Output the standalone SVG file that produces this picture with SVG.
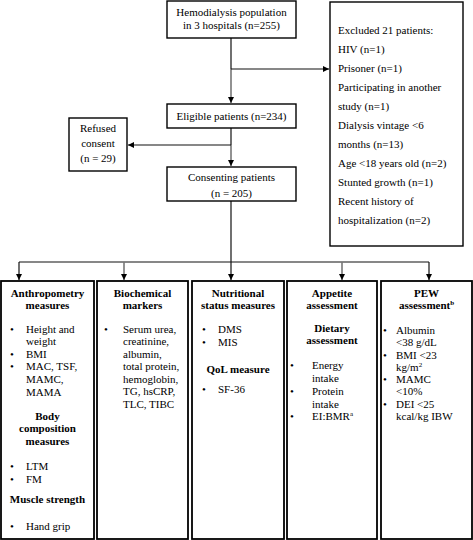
<svg xmlns="http://www.w3.org/2000/svg" width="473" height="540" viewBox="0 0 473 540">
<defs>
<marker id="ah" markerWidth="8" markerHeight="8" refX="6" refY="3" orient="auto" markerUnits="userSpaceOnUse">
<path d="M0,0 L6,3 L0,6 Z" fill="#000"/>
</marker>
<style>
text{font-family:"Liberation Serif","Times New Roman",serif;font-size:11px;fill:#000}
.b{font-weight:bold}
.box{fill:#fff;stroke:#000;stroke-width:1.4}
.col{fill:#fff;stroke:#000;stroke-width:1.8}
.ln{fill:none;stroke:#111;stroke-width:1.2}
.gr{fill:none;stroke:#777;stroke-width:1.6}
.sup{font-size:7px}
</style>
</defs>
<rect width="473" height="540" fill="#fff"/>
<g id="connectors">
<path class="ln" d="M231,38 V69"/>
<path class="gr" d="M231,69 V103" marker-end="url(#ah)"/>
<path class="ln" d="M231,69 H329" marker-end="url(#ah)"/>
<path class="ln" d="M231,128 V145"/>
<path class="gr" d="M231,145 V166" marker-end="url(#ah)"/>
<path class="ln" d="M231,145 H128" marker-end="url(#ah)"/>
<path class="ln" d="M231,201 V280" marker-end="url(#ah)"/>
<path class="ln" d="M19,262 H429"/>
<path class="ln" d="M19,262 V280" marker-end="url(#ah)"/>
<path class="gr" d="M124,262 V280" marker-end="url(#ah)"/>
<path class="gr" d="M342,262 V280" marker-end="url(#ah)"/>
<path class="ln" d="M429,262 V280" marker-end="url(#ah)"/>
</g>
<g id="population">
<rect class="box" x="167" y="1" width="129" height="37"/>
<text text-anchor="middle" x="231.5" y="16">Hemodialysis population</text>
<text text-anchor="middle" x="231.5" y="29">in 3 hospitals (n=255)</text>
</g>
<g id="excluded">
<rect class="box" x="330" y="2" width="133" height="244"/>
<text x="338" y="34">Excluded 21 patients:</text>
<text x="338" y="53">HIV (n=1)</text>
<text x="338" y="72">Prisoner (n=1)</text>
<text x="338" y="91">Participating in another</text>
<text x="338" y="110">study (n=1)</text>
<text x="338" y="129">Dialysis vintage &lt;6</text>
<text x="338" y="148">months (n=13)</text>
<text x="338" y="167">Age &lt;18 years old (n=2)</text>
<text x="338" y="186">Stunted growth (n=1)</text>
<text x="338" y="205">Recent history of</text>
<text x="338" y="224">hospitalization (n=2)</text>
</g>
<g id="eligible">
<rect class="box" x="167" y="104" width="129" height="24"/>
<text text-anchor="middle" x="231.5" y="120">Eligible patients (n=234)</text>
</g>
<g id="refused">
<rect class="box" x="69" y="118" width="58" height="53"/>
<text text-anchor="middle" x="98" y="132">Refused</text>
<text text-anchor="middle" x="98" y="147">consent</text>
<text text-anchor="middle" x="98" y="162">(n = 29)</text>
</g>
<g id="consenting">
<rect class="box" x="167" y="167" width="129" height="34"/>
<text text-anchor="middle" x="231.5" y="181">Consenting patients</text>
<text text-anchor="middle" x="231.5" y="197">(n = 205)</text>
</g>
<g id="anthropometry">
<rect class="col" x="1" y="281" width="93" height="258"/>
<text class="b" text-anchor="middle" x="47.5" y="297">Anthropometry</text>
<text class="b" text-anchor="middle" x="47.5" y="309">measures</text>
<text x="10" y="333">•</text><text x="26" y="333">Height and</text>
<text x="26" y="345">weight</text>
<text x="10" y="358">•</text><text x="26" y="358">BMI</text>
<text x="10" y="370">•</text><text x="26" y="370">MAC, TSF,</text>
<text x="26" y="383">MAMC,</text>
<text x="26" y="396">MAMA</text>
<text class="b" text-anchor="middle" x="47.5" y="420">Body</text>
<text class="b" text-anchor="middle" x="47.5" y="432">composition</text>
<text class="b" text-anchor="middle" x="47.5" y="445">measures</text>
<text x="10" y="470">•</text><text x="26" y="470">LTM</text>
<text x="10" y="483">•</text><text x="26" y="483">FM</text>
<text class="b" text-anchor="middle" x="47.5" y="503">Muscle strength</text>
<text x="10" y="530">•</text><text x="26" y="530">Hand grip</text>
</g>
<g id="biochemical">
<rect class="col" x="97" y="281" width="91" height="258"/>
<text class="b" text-anchor="middle" x="142.5" y="297">Biochemical</text>
<text class="b" text-anchor="middle" x="142.5" y="309">markers</text>
<text x="104" y="333">•</text><text x="123" y="333">Serum urea,</text>
<text x="123" y="345">creatinine,</text>
<text x="123" y="358">albumin,</text>
<text x="123" y="370">total protein,</text>
<text x="123" y="383">hemoglobin,</text>
<text x="123" y="395">TG, hsCRP,</text>
<text x="123" y="408">TLC, TIBC</text>
</g>
<g id="nutritional">
<rect class="col" x="192" y="281" width="92" height="258"/>
<text class="b" text-anchor="middle" x="238" y="297">Nutritional</text>
<text class="b" text-anchor="middle" x="238" y="309">status measures</text>
<text x="202" y="333">•</text><text x="218" y="333">DMS</text>
<text x="202" y="346">•</text><text x="218" y="346">MIS</text>
<text class="b" text-anchor="middle" x="238" y="373">QoL measure</text>
<text x="202" y="393">•</text><text x="218" y="393">SF-36</text>
</g>
<g id="appetite">
<rect class="col" x="287" y="281" width="90" height="258"/>
<text class="b" text-anchor="middle" x="332" y="297">Appetite</text>
<text class="b" text-anchor="middle" x="332" y="309">assessment</text>
<text class="b" text-anchor="middle" x="332" y="332">Dietary</text>
<text class="b" text-anchor="middle" x="332" y="344">assessment</text>
<text x="290" y="369">•</text><text x="312" y="369">Energy</text>
<text x="312" y="382">intake</text>
<text x="290" y="395">•</text><text x="312" y="395">Protein</text>
<text x="312" y="408">intake</text>
<text x="290" y="420">•</text><text x="312" y="420">EI:BMR<tspan class="sup" dy="-4">a</tspan></text>
</g>
<g id="pew">
<rect class="col" x="381" y="281" width="91" height="258"/>
<text class="b" text-anchor="middle" x="426.5" y="297">PEW</text>
<text class="b" text-anchor="middle" x="426.5" y="309">assessment<tspan class="sup" dy="-4">b</tspan></text>
<text x="383" y="334">•</text><text x="396" y="334">Albumin</text>
<text x="396" y="346">&lt;38 g/dL</text>
<text x="383" y="359">•</text><text x="396" y="359">BMI &lt;23</text>
<text x="396" y="371">kg/m<tspan class="sup" dy="-4">2</tspan></text>
<text x="383" y="383">•</text><text x="396" y="383">MAMC</text>
<text x="396" y="395">&lt;10%</text>
<text x="383" y="408">•</text><text x="396" y="408">DEI &lt;25</text>
<text x="396" y="420">kcal/kg IBW</text>
</g>
</svg>
